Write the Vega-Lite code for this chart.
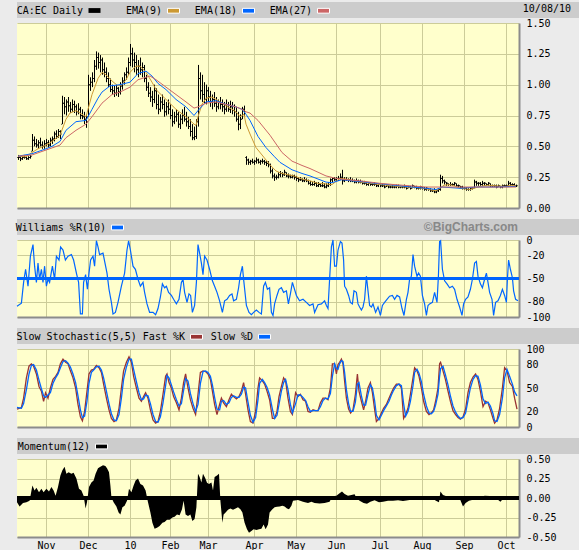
{
"$schema": "https://vega.github.io/schema/vega-lite/v6.json",
"background": "#ebebeb",
"padding": {"left": 14, "top": 2, "right": 0, "bottom": 0},
"bounds": "flush",
"spacing": 5,
"resolve": {"scale": {"color": "independent", "shape": "independent"}, "legend": {"color": "independent", "shape": "independent"}},
"datasets": {
"price": [
{"t":-14,"o":0.41,"h":0.43,"l":0.39,"c":0.41},{"t":-13,"o":0.41,"h":0.42,"l":0.38,"c":0.40},{"t":-12,"o":0.40,"h":0.42,"l":0.39,"c":0.41},{"t":-11,"o":0.41,"h":0.43,"l":0.40,"c":0.41},{"t":-10,"o":0.41,"h":0.42,"l":0.39,"c":0.40},{"t":-9,"o":0.40,"h":0.42,"l":0.39,"c":0.41},{"t":-8,"o":0.41,"h":0.43,"l":0.40,"c":0.42},
{"t":-7,"o":0.46,"h":0.60,"l":0.46,"c":0.55},{"t":-6,"o":0.55,"h":0.58,"l":0.50,"c":0.52},{"t":-5,"o":0.52,"h":0.56,"l":0.49,"c":0.51},{"t":-4,"o":0.51,"h":0.55,"l":0.48,"c":0.53},{"t":-3,"o":0.53,"h":0.57,"l":0.50,"c":0.51},{"t":-2,"o":0.51,"h":0.54,"l":0.48,"c":0.50},{"t":-1,"o":0.50,"h":0.55,"l":0.48,"c":0.52},{"t":0,"o":0.52,"h":0.56,"l":0.50,"c":0.53},{"t":1,"o":0.53,"h":0.55,"l":0.49,"c":0.51},{"t":2,"o":0.51,"h":0.57,"l":0.50,"c":0.55},{"t":3,"o":0.55,"h":0.58,"l":0.52,"c":0.56},
{"t":4,"o":0.56,"h":0.62,"l":0.54,"c":0.60},{"t":5,"o":0.60,"h":0.63,"l":0.56,"c":0.58},{"t":6,"o":0.58,"h":0.64,"l":0.57,"c":0.62},{"t":7,"o":0.62,"h":0.63,"l":0.56,"c":0.60},
{"t":8,"o":0.68,"h":0.91,"l":0.68,"c":0.85},{"t":9,"o":0.85,"h":0.90,"l":0.76,"c":0.82},{"t":10,"o":0.82,"h":0.88,"l":0.75,"c":0.86},{"t":11,"o":0.86,"h":0.90,"l":0.78,"c":0.83},{"t":12,"o":0.83,"h":0.86,"l":0.77,"c":0.80},{"t":13,"o":0.80,"h":0.88,"l":0.78,"c":0.84},{"t":14,"o":0.84,"h":0.87,"l":0.77,"c":0.82},{"t":15,"o":0.82,"h":0.84,"l":0.75,"c":0.78},{"t":16,"o":0.78,"h":0.85,"l":0.76,"c":0.80},{"t":17,"o":0.80,"h":0.82,"l":0.72,"c":0.75},
{"t":18,"o":0.75,"h":0.80,"l":0.72,"c":0.74},{"t":19,"o":0.74,"h":0.78,"l":0.68,"c":0.72},{"t":20,"o":0.72,"h":0.76,"l":0.65,"c":0.70},
{"t":21,"o":0.74,"h":1.08,"l":0.74,"c":1.00},{"t":22,"o":1.00,"h":1.06,"l":0.95,"c":1.02},{"t":23,"o":1.02,"h":1.10,"l":0.98,"c":1.05},{"t":24,"o":1.05,"h":1.20,"l":1.02,"c":1.15},{"t":25,"o":1.15,"h":1.27,"l":1.12,"c":1.22},{"t":26,"o":1.22,"h":1.26,"l":1.13,"c":1.18},{"t":27,"o":1.18,"h":1.24,"l":1.10,"c":1.20},{"t":28,"o":1.20,"h":1.22,"l":1.08,"c":1.12},{"t":29,"o":1.12,"h":1.18,"l":1.06,"c":1.10},
{"t":30,"o":1.10,"h":1.14,"l":1.02,"c":1.05},{"t":31,"o":1.05,"h":1.10,"l":0.98,"c":1.00},{"t":32,"o":1.00,"h":1.05,"l":0.94,"c":0.96},{"t":33,"o":0.96,"h":1.00,"l":0.92,"c":0.95},{"t":34,"o":0.95,"h":0.99,"l":0.90,"c":0.93},{"t":35,"o":0.93,"h":1.00,"l":0.91,"c":0.97},{"t":36,"o":0.97,"h":0.98,"l":0.90,"c":0.94},{"t":37,"o":0.94,"h":1.02,"l":0.92,"c":0.99},
{"t":38,"o":0.99,"h":1.06,"l":0.96,"c":1.03},{"t":39,"o":1.03,"h":1.10,"l":1.00,"c":1.08},{"t":40,"o":1.08,"h":1.14,"l":1.04,"c":1.10},{"t":41,"o":1.10,"h":1.22,"l":1.08,"c":1.18},{"t":42,"o":1.18,"h":1.33,"l":1.15,"c":1.25},{"t":43,"o":1.25,"h":1.30,"l":1.14,"c":1.20},
{"t":44,"o":1.20,"h":1.26,"l":1.10,"c":1.18},{"t":45,"o":1.18,"h":1.24,"l":1.08,"c":1.12},{"t":46,"o":1.12,"h":1.20,"l":1.06,"c":1.15},{"t":47,"o":1.15,"h":1.22,"l":1.08,"c":1.12},{"t":48,"o":1.12,"h":1.18,"l":1.06,"c":1.14},{"t":49,"o":1.14,"h":1.16,"l":1.02,"c":1.05},{"t":50,"o":1.05,"h":1.08,"l":0.95,"c":0.98},
{"t":51,"o":0.98,"h":1.02,"l":0.90,"c":0.93},{"t":52,"o":0.93,"h":0.98,"l":0.86,"c":0.90},{"t":53,"o":0.90,"h":0.95,"l":0.82,"c":0.88},{"t":54,"o":0.88,"h":1.00,"l":0.85,"c":0.95},{"t":55,"o":0.95,"h":0.97,"l":0.80,"c":0.84},{"t":56,"o":0.84,"h":0.92,"l":0.76,"c":0.80},{"t":57,"o":0.80,"h":0.90,"l":0.78,"c":0.86},{"t":58,"o":0.86,"h":0.92,"l":0.80,"c":0.84},{"t":59,"o":0.84,"h":0.88,"l":0.74,"c":0.78},{"t":60,"o":0.78,"h":0.86,"l":0.75,"c":0.82},
{"t":61,"o":0.82,"h":0.88,"l":0.76,"c":0.80},{"t":62,"o":0.80,"h":0.84,"l":0.72,"c":0.75},{"t":63,"o":0.75,"h":0.80,"l":0.66,"c":0.70},{"t":64,"o":0.70,"h":0.78,"l":0.68,"c":0.74},{"t":65,"o":0.74,"h":0.80,"l":0.70,"c":0.76},{"t":66,"o":0.76,"h":0.78,"l":0.65,"c":0.68},{"t":67,"o":0.68,"h":0.76,"l":0.64,"c":0.72},{"t":68,"o":0.72,"h":0.80,"l":0.68,"c":0.75},{"t":69,"o":0.75,"h":0.82,"l":0.70,"c":0.72},{"t":70,"o":0.72,"h":0.78,"l":0.66,"c":0.70},{"t":71,"o":0.70,"h":0.74,"l":0.64,"c":0.66},{"t":72,"o":0.66,"h":0.72,"l":0.58,"c":0.62},{"t":73,"o":0.62,"h":0.68,"l":0.55,"c":0.57},{"t":74,"o":0.57,"h":0.66,"l":0.55,"c":0.58},{"t":75,"o":0.58,"h":0.72,"l":0.56,"c":0.70},
{"t":76,"o":0.70,"h":1.16,"l":0.66,"c":1.05},{"t":77,"o":1.05,"h":1.10,"l":0.88,"c":0.95},{"t":78,"o":0.95,"h":1.08,"l":0.86,"c":0.92},{"t":79,"o":0.92,"h":1.02,"l":0.85,"c":0.88},
{"t":80,"o":0.88,"h":1.00,"l":0.84,"c":0.95},{"t":81,"o":0.95,"h":0.98,"l":0.86,"c":0.90},{"t":82,"o":0.90,"h":0.95,"l":0.82,"c":0.86},{"t":83,"o":0.86,"h":0.92,"l":0.80,"c":0.88},{"t":84,"o":0.88,"h":0.94,"l":0.82,"c":0.85},{"t":85,"o":0.85,"h":0.90,"l":0.78,"c":0.82},{"t":86,"o":0.82,"h":0.88,"l":0.80,"c":0.86},{"t":87,"o":0.86,"h":0.90,"l":0.80,"c":0.84},
{"t":88,"o":0.84,"h":0.88,"l":0.78,"c":0.82},{"t":89,"o":0.82,"h":0.86,"l":0.76,"c":0.80},{"t":90,"o":0.80,"h":0.88,"l":0.78,"c":0.84},{"t":91,"o":0.84,"h":0.86,"l":0.78,"c":0.80},{"t":92,"o":0.80,"h":0.87,"l":0.77,"c":0.82},{"t":93,"o":0.82,"h":0.86,"l":0.76,"c":0.79},{"t":94,"o":0.79,"h":0.84,"l":0.74,"c":0.78},{"t":95,"o":0.78,"h":0.82,"l":0.70,"c":0.72},{"t":96,"o":0.72,"h":0.78,"l":0.63,"c":0.68},{"t":97,"o":0.68,"h":0.76,"l":0.64,"c":0.72},{"t":98,"o":0.72,"h":0.82,"l":0.72,"c":0.80},{"t":99,"o":0.80,"h":0.83,"l":0.74,"c":0.78},
{"t":100,"o":0.41,"h":0.42,"l":0.35,"c":0.39},{"t":101,"o":0.39,"h":0.40,"l":0.35,"c":0.37},{"t":102,"o":0.37,"h":0.39,"l":0.35,"c":0.38},{"t":103,"o":0.38,"h":0.40,"l":0.36,"c":0.37},{"t":104,"o":0.37,"h":0.39,"l":0.35,"c":0.38},{"t":105,"o":0.38,"h":0.41,"l":0.36,"c":0.39},{"t":106,"o":0.39,"h":0.40,"l":0.36,"c":0.37},{"t":107,"o":0.37,"h":0.39,"l":0.35,"c":0.38},{"t":108,"o":0.38,"h":0.40,"l":0.36,"c":0.38},{"t":109,"o":0.38,"h":0.39,"l":0.35,"c":0.37},{"t":110,"o":0.37,"h":0.38,"l":0.34,"c":0.36},{"t":111,"o":0.36,"h":0.38,"l":0.33,"c":0.35},
{"t":112,"o":0.35,"h":0.36,"l":0.28,"c":0.30},{"t":113,"o":0.30,"h":0.32,"l":0.24,"c":0.26},{"t":114,"o":0.26,"h":0.28,"l":0.22,"c":0.25},{"t":115,"o":0.25,"h":0.27,"l":0.23,"c":0.25},{"t":116,"o":0.25,"h":0.29,"l":0.24,"c":0.27},{"t":117,"o":0.27,"h":0.30,"l":0.25,"c":0.28},{"t":118,"o":0.28,"h":0.29,"l":0.25,"c":0.27},{"t":119,"o":0.27,"h":0.31,"l":0.26,"c":0.29},{"t":120,"o":0.29,"h":0.29,"l":0.25,"c":0.26},{"t":121,"o":0.26,"h":0.28,"l":0.24,"c":0.26},{"t":122,"o":0.26,"h":0.27,"l":0.24,"c":0.25},{"t":123,"o":0.25,"h":0.27,"l":0.24,"c":0.26},
{"t":124,"o":0.26,"h":0.27,"l":0.23,"c":0.25},{"t":125,"o":0.25,"h":0.26,"l":0.22,"c":0.24},{"t":126,"o":0.24,"h":0.25,"l":0.21,"c":0.23},{"t":127,"o":0.23,"h":0.25,"l":0.22,"c":0.23},{"t":128,"o":0.23,"h":0.24,"l":0.21,"c":0.22},{"t":129,"o":0.22,"h":0.25,"l":0.21,"c":0.23},{"t":130,"o":0.23,"h":0.24,"l":0.21,"c":0.22},
{"t":131,"o":0.22,"h":0.23,"l":0.19,"c":0.20},{"t":132,"o":0.20,"h":0.22,"l":0.18,"c":0.19},{"t":133,"o":0.19,"h":0.21,"l":0.18,"c":0.19},{"t":134,"o":0.19,"h":0.22,"l":0.18,"c":0.20},{"t":135,"o":0.20,"h":0.21,"l":0.17,"c":0.18},{"t":136,"o":0.18,"h":0.21,"l":0.17,"c":0.19},{"t":137,"o":0.19,"h":0.20,"l":0.17,"c":0.18},{"t":138,"o":0.18,"h":0.21,"l":0.17,"c":0.18},{"t":139,"o":0.18,"h":0.20,"l":0.16,"c":0.17},{"t":140,"o":0.17,"h":0.20,"l":0.16,"c":0.18},{"t":141,"o":0.18,"h":0.21,"l":0.17,"c":0.19},{"t":142,"o":0.19,"h":0.24,"l":0.18,"c":0.23},
{"t":143,"o":0.23,"h":0.25,"l":0.21,"c":0.24},{"t":144,"o":0.24,"h":0.25,"l":0.22,"c":0.23},{"t":145,"o":0.23,"h":0.25,"l":0.22,"c":0.24},{"t":146,"o":0.24,"h":0.26,"l":0.22,"c":0.24},{"t":147,"o":0.24,"h":0.28,"l":0.23,"c":0.25},{"t":148,"o":0.25,"h":0.31,"l":0.19,"c":0.22},
{"t":149,"o":0.22,"h":0.25,"l":0.21,"c":0.23},{"t":150,"o":0.23,"h":0.25,"l":0.22,"c":0.23},{"t":151,"o":0.23,"h":0.24,"l":0.21,"c":0.23},{"t":152,"o":0.23,"h":0.25,"l":0.21,"c":0.22},{"t":153,"o":0.22,"h":0.24,"l":0.21,"c":0.22},{"t":154,"o":0.22,"h":0.23,"l":0.20,"c":0.21},{"t":155,"o":0.21,"h":0.24,"l":0.20,"c":0.22},{"t":156,"o":0.22,"h":0.23,"l":0.20,"c":0.21},{"t":157,"o":0.21,"h":0.23,"l":0.20,"c":0.21},
{"t":158,"o":0.21,"h":0.22,"l":0.19,"c":0.20},{"t":159,"o":0.20,"h":0.22,"l":0.19,"c":0.20},{"t":160,"o":0.20,"h":0.21,"l":0.18,"c":0.19},{"t":161,"o":0.19,"h":0.21,"l":0.18,"c":0.20},{"t":162,"o":0.20,"h":0.21,"l":0.18,"c":0.19},{"t":163,"o":0.19,"h":0.20,"l":0.18,"c":0.19},{"t":164,"o":0.19,"h":0.21,"l":0.18,"c":0.19},{"t":165,"o":0.19,"h":0.20,"l":0.17,"c":0.18},{"t":166,"o":0.18,"h":0.20,"l":0.17,"c":0.19},{"t":167,"o":0.19,"h":0.20,"l":0.17,"c":0.18},
{"t":168,"o":0.18,"h":0.20,"l":0.17,"c":0.18},{"t":169,"o":0.18,"h":0.19,"l":0.16,"c":0.17},{"t":170,"o":0.17,"h":0.19,"l":0.17,"c":0.18},{"t":171,"o":0.18,"h":0.19,"l":0.16,"c":0.17},{"t":172,"o":0.17,"h":0.18,"l":0.16,"c":0.17},{"t":173,"o":0.17,"h":0.19,"l":0.16,"c":0.17},{"t":174,"o":0.17,"h":0.18,"l":0.16,"c":0.17},{"t":175,"o":0.17,"h":0.19,"l":0.16,"c":0.18},{"t":176,"o":0.18,"h":0.19,"l":0.16,"c":0.17},{"t":177,"o":0.17,"h":0.18,"l":0.16,"c":0.17},{"t":178,"o":0.17,"h":0.18,"l":0.16,"c":0.17},
{"t":179,"o":0.17,"h":0.19,"l":0.16,"c":0.17},{"t":180,"o":0.17,"h":0.18,"l":0.15,"c":0.16},{"t":181,"o":0.16,"h":0.18,"l":0.16,"c":0.17},{"t":182,"o":0.17,"h":0.18,"l":0.15,"c":0.16},{"t":183,"o":0.16,"h":0.19,"l":0.16,"c":0.18},{"t":184,"o":0.18,"h":0.18,"l":0.16,"c":0.17},{"t":185,"o":0.17,"h":0.18,"l":0.15,"c":0.16},{"t":186,"o":0.16,"h":0.17,"l":0.15,"c":0.16},{"t":187,"o":0.16,"h":0.18,"l":0.15,"c":0.17},{"t":188,"o":0.17,"h":0.17,"l":0.15,"c":0.16},{"t":189,"o":0.16,"h":0.17,"l":0.14,"c":0.15},{"t":190,"o":0.15,"h":0.17,"l":0.14,"c":0.16},
{"t":191,"o":0.16,"h":0.16,"l":0.14,"c":0.15},{"t":192,"o":0.15,"h":0.16,"l":0.13,"c":0.14},{"t":193,"o":0.14,"h":0.15,"l":0.13,"c":0.14},{"t":194,"o":0.14,"h":0.16,"l":0.12,"c":0.13},{"t":195,"o":0.13,"h":0.15,"l":0.12,"c":0.14},{"t":196,"o":0.14,"h":0.16,"l":0.13,"c":0.15},{"t":197,"o":0.15,"h":0.27,"l":0.14,"c":0.24},
{"t":198,"o":0.24,"h":0.26,"l":0.20,"c":0.22},{"t":199,"o":0.22,"h":0.23,"l":0.19,"c":0.21},{"t":200,"o":0.21,"h":0.21,"l":0.18,"c":0.20},{"t":201,"o":0.20,"h":0.20,"l":0.18,"c":0.19},{"t":202,"o":0.19,"h":0.21,"l":0.18,"c":0.19},{"t":203,"o":0.19,"h":0.20,"l":0.18,"c":0.19},{"t":204,"o":0.19,"h":0.21,"l":0.18,"c":0.20},{"t":205,"o":0.20,"h":0.20,"l":0.17,"c":0.18},{"t":206,"o":0.18,"h":0.19,"l":0.17,"c":0.18},{"t":207,"o":0.18,"h":0.18,"l":0.16,"c":0.17},{"t":208,"o":0.17,"h":0.18,"l":0.15,"c":0.16},{"t":209,"o":0.16,"h":0.17,"l":0.15,"c":0.16},{"t":210,"o":0.16,"h":0.17,"l":0.14,"c":0.15},{"t":211,"o":0.15,"h":0.16,"l":0.14,"c":0.15},{"t":212,"o":0.15,"h":0.17,"l":0.14,"c":0.16},{"t":213,"o":0.16,"h":0.17,"l":0.15,"c":0.16},
{"t":214,"o":0.16,"h":0.23,"l":0.16,"c":0.21},{"t":215,"o":0.21,"h":0.22,"l":0.18,"c":0.20},{"t":216,"o":0.20,"h":0.21,"l":0.18,"c":0.20},{"t":217,"o":0.20,"h":0.21,"l":0.18,"c":0.19},{"t":218,"o":0.19,"h":0.22,"l":0.18,"c":0.20},{"t":219,"o":0.20,"h":0.21,"l":0.18,"c":0.20},{"t":220,"o":0.20,"h":0.20,"l":0.18,"c":0.19},{"t":221,"o":0.19,"h":0.21,"l":0.18,"c":0.20},{"t":222,"o":0.20,"h":0.20,"l":0.17,"c":0.18},{"t":223,"o":0.18,"h":0.19,"l":0.17,"c":0.18},{"t":224,"o":0.18,"h":0.19,"l":0.17,"c":0.18},{"t":225,"o":0.18,"h":0.19,"l":0.16,"c":0.17},{"t":226,"o":0.17,"h":0.19,"l":0.17,"c":0.18},{"t":227,"o":0.18,"h":0.18,"l":0.16,"c":0.17},{"t":228,"o":0.17,"h":0.19,"l":0.16,"c":0.18},{"t":229,"o":0.18,"h":0.19,"l":0.17,"c":0.18},{"t":230,"o":0.18,"h":0.19,"l":0.17,"c":0.18},{"t":231,"o":0.18,"h":0.22,"l":0.17,"c":0.20},{"t":232,"o":0.20,"h":0.21,"l":0.18,"c":0.19},{"t":233,"o":0.19,"h":0.20,"l":0.18,"c":0.19},{"t":234,"o":0.19,"h":0.20,"l":0.17,"c":0.18},{"t":235,"o":0.18,"h":0.19,"l":0.17,"c":0.18}
],
"ema": [
{"s":"EMA(9)","t":-14,"v":0.42},{"s":"EMA(9)","t":-10,"v":0.415},{"s":"EMA(9)","t":-7,"v":0.45},{"s":"EMA(9)","t":-4,"v":0.48},{"s":"EMA(9)","t":0,"v":0.51},{"s":"EMA(9)","t":3,"v":0.54},{"s":"EMA(9)","t":7,"v":0.59},{"s":"EMA(9)","t":10,"v":0.72},{"s":"EMA(9)","t":12,"v":0.77},{"s":"EMA(9)","t":15,"v":0.79},{"s":"EMA(9)","t":18,"v":0.76},{"s":"EMA(9)","t":20,"v":0.74},{"s":"EMA(9)","t":21,"v":0.80},{"s":"EMA(9)","t":23,"v":0.92},{"s":"EMA(9)","t":26,"v":1.05},{"s":"EMA(9)","t":28,"v":1.10},{"s":"EMA(9)","t":30,"v":1.08},{"s":"EMA(9)","t":33,"v":1.03},{"s":"EMA(9)","t":36,"v":0.99},{"s":"EMA(9)","t":38,"v":1.00},{"s":"EMA(9)","t":40,"v":1.04},{"s":"EMA(9)","t":42,"v":1.10},{"s":"EMA(9)","t":45,"v":1.15},{"s":"EMA(9)","t":47,"v":1.15},{"s":"EMA(9)","t":50,"v":1.10},{"s":"EMA(9)","t":53,"v":1.02},{"s":"EMA(9)","t":55,"v":0.96},{"s":"EMA(9)","t":60,"v":0.88},{"s":"EMA(9)","t":65,"v":0.80},{"s":"EMA(9)","t":70,"v":0.74},{"s":"EMA(9)","t":74,"v":0.68},{"s":"EMA(9)","t":75,"v":0.67},{"s":"EMA(9)","t":76,"v":0.74},{"s":"EMA(9)","t":78,"v":0.84},{"s":"EMA(9)","t":80,"v":0.89},{"s":"EMA(9)","t":83,"v":0.90},{"s":"EMA(9)","t":86,"v":0.87},{"s":"EMA(9)","t":90,"v":0.83},{"s":"EMA(9)","t":95,"v":0.78},{"s":"EMA(9)","t":97,"v":0.74},{"s":"EMA(9)","t":99,"v":0.76},{"s":"EMA(9)","t":100,"v":0.68},{"s":"EMA(9)","t":102,"v":0.60},{"s":"EMA(9)","t":105,"v":0.49},{"s":"EMA(9)","t":108,"v":0.43},{"s":"EMA(9)","t":112,"v":0.35},{"s":"EMA(9)","t":115,"v":0.30},{"s":"EMA(9)","t":118,"v":0.28},{"s":"EMA(9)","t":121,"v":0.27},{"s":"EMA(9)","t":124,"v":0.26},{"s":"EMA(9)","t":128,"v":0.235},{"s":"EMA(9)","t":132,"v":0.22},{"s":"EMA(9)","t":136,"v":0.20},{"s":"EMA(9)","t":140,"v":0.195},{"s":"EMA(9)","t":143,"v":0.19},{"s":"EMA(9)","t":145,"v":0.215},{"s":"EMA(9)","t":147,"v":0.24},{"s":"EMA(9)","t":150,"v":0.235},{"s":"EMA(9)","t":153,"v":0.225},{"s":"EMA(9)","t":157,"v":0.21},{"s":"EMA(9)","t":162,"v":0.20},{"s":"EMA(9)","t":167,"v":0.19},{"s":"EMA(9)","t":173,"v":0.18},{"s":"EMA(9)","t":180,"v":0.17},{"s":"EMA(9)","t":185,"v":0.165},{"s":"EMA(9)","t":190,"v":0.155},{"s":"EMA(9)","t":193,"v":0.145},{"s":"EMA(9)","t":195,"v":0.14},{"s":"EMA(9)","t":197,"v":0.16},{"s":"EMA(9)","t":199,"v":0.185},{"s":"EMA(9)","t":202,"v":0.19},{"s":"EMA(9)","t":205,"v":0.175},{"s":"EMA(9)","t":207,"v":0.16},{"s":"EMA(9)","t":212,"v":0.15},{"s":"EMA(9)","t":214,"v":0.16},{"s":"EMA(9)","t":217,"v":0.175},{"s":"EMA(9)","t":221,"v":0.185},{"s":"EMA(9)","t":225,"v":0.18},{"s":"EMA(9)","t":230,"v":0.175},{"s":"EMA(9)","t":232,"v":0.185},{"s":"EMA(9)","t":235,"v":0.18},
{"s":"EMA(18)","t":-14,"v":0.42},{"s":"EMA(18)","t":-7,"v":0.44},{"s":"EMA(18)","t":0,"v":0.48},{"s":"EMA(18)","t":3,"v":0.50},{"s":"EMA(18)","t":7,"v":0.54},{"s":"EMA(18)","t":10,"v":0.63},{"s":"EMA(18)","t":15,"v":0.70},{"s":"EMA(18)","t":20,"v":0.71},{"s":"EMA(18)","t":23,"v":0.80},{"s":"EMA(18)","t":26,"v":0.89},{"s":"EMA(18)","t":28,"v":0.94},{"s":"EMA(18)","t":32,"v":0.99},{"s":"EMA(18)","t":37,"v":1.00},{"s":"EMA(18)","t":42,"v":1.02},{"s":"EMA(18)","t":46,"v":1.09},{"s":"EMA(18)","t":50,"v":1.11},{"s":"EMA(18)","t":53,"v":1.07},{"s":"EMA(18)","t":56,"v":1.01},{"s":"EMA(18)","t":60,"v":0.96},{"s":"EMA(18)","t":65,"v":0.88},{"s":"EMA(18)","t":70,"v":0.82},{"s":"EMA(18)","t":74,"v":0.75},{"s":"EMA(18)","t":76,"v":0.79},{"s":"EMA(18)","t":80,"v":0.86},{"s":"EMA(18)","t":85,"v":0.87},{"s":"EMA(18)","t":90,"v":0.84},{"s":"EMA(18)","t":95,"v":0.82},{"s":"EMA(18)","t":98,"v":0.80},{"s":"EMA(18)","t":100,"v":0.76},{"s":"EMA(18)","t":102,"v":0.71},{"s":"EMA(18)","t":106,"v":0.58},{"s":"EMA(18)","t":110,"v":0.49},{"s":"EMA(18)","t":114,"v":0.42},{"s":"EMA(18)","t":117,"v":0.37},{"s":"EMA(18)","t":120,"v":0.34},{"s":"EMA(18)","t":123,"v":0.31},{"s":"EMA(18)","t":128,"v":0.28},{"s":"EMA(18)","t":132,"v":0.26},{"s":"EMA(18)","t":136,"v":0.235},{"s":"EMA(18)","t":140,"v":0.21},{"s":"EMA(18)","t":143,"v":0.205},{"s":"EMA(18)","t":146,"v":0.22},{"s":"EMA(18)","t":148,"v":0.23},{"s":"EMA(18)","t":153,"v":0.22},{"s":"EMA(18)","t":157,"v":0.215},{"s":"EMA(18)","t":165,"v":0.20},{"s":"EMA(18)","t":174,"v":0.185},{"s":"EMA(18)","t":183,"v":0.17},{"s":"EMA(18)","t":190,"v":0.16},{"s":"EMA(18)","t":195,"v":0.15},{"s":"EMA(18)","t":198,"v":0.17},{"s":"EMA(18)","t":207,"v":0.16},{"s":"EMA(18)","t":215,"v":0.17},{"s":"EMA(18)","t":225,"v":0.17},{"s":"EMA(18)","t":235,"v":0.175},
{"s":"EMA(27)","t":-14,"v":0.42},{"s":"EMA(27)","t":-7,"v":0.43},{"s":"EMA(27)","t":0,"v":0.47},{"s":"EMA(27)","t":7,"v":0.51},{"s":"EMA(27)","t":10,"v":0.57},{"s":"EMA(27)","t":15,"v":0.63},{"s":"EMA(27)","t":20,"v":0.68},{"s":"EMA(27)","t":23,"v":0.74},{"s":"EMA(27)","t":28,"v":0.85},{"s":"EMA(27)","t":33,"v":0.92},{"s":"EMA(27)","t":37,"v":0.94},{"s":"EMA(27)","t":42,"v":0.98},{"s":"EMA(27)","t":46,"v":1.04},{"s":"EMA(27)","t":50,"v":1.06},{"s":"EMA(27)","t":52,"v":1.07},{"s":"EMA(27)","t":55,"v":1.04},{"s":"EMA(27)","t":60,"v":0.98},{"s":"EMA(27)","t":65,"v":0.92},{"s":"EMA(27)","t":70,"v":0.86},{"s":"EMA(27)","t":74,"v":0.81},{"s":"EMA(27)","t":76,"v":0.82},{"s":"EMA(27)","t":80,"v":0.85},{"s":"EMA(27)","t":85,"v":0.86},{"s":"EMA(27)","t":90,"v":0.84},{"s":"EMA(27)","t":95,"v":0.82},{"s":"EMA(27)","t":98,"v":0.80},{"s":"EMA(27)","t":100,"v":0.78},{"s":"EMA(27)","t":102,"v":0.77},{"s":"EMA(27)","t":106,"v":0.71},{"s":"EMA(27)","t":112,"v":0.59},{"s":"EMA(27)","t":118,"v":0.45},{"s":"EMA(27)","t":123,"v":0.38},{"s":"EMA(27)","t":128,"v":0.345},{"s":"EMA(27)","t":132,"v":0.32},{"s":"EMA(27)","t":136,"v":0.29},{"s":"EMA(27)","t":140,"v":0.26},{"s":"EMA(27)","t":145,"v":0.24},{"s":"EMA(27)","t":150,"v":0.23},{"s":"EMA(27)","t":157,"v":0.22},{"s":"EMA(27)","t":167,"v":0.20},{"s":"EMA(27)","t":174,"v":0.19},{"s":"EMA(27)","t":190,"v":0.17},{"s":"EMA(27)","t":207,"v":0.17},{"s":"EMA(27)","t":222,"v":0.17},{"s":"EMA(27)","t":235,"v":0.17}
],
"wr": [
{"t":-14.5,"v":-86},{"t":-12.3,"v":-82},{"t":-11.2,"v":-55},{"t":-10.2,"v":-38},{"t":-9,"v":-60},{"t":-7.8,"v":-21},{"t":-6.5,"v":-6},{"t":-5.7,"v":-34},{"t":-4.8,"v":-55},{"t":-4,"v":-30},{"t":-3.2,"v":-51},{"t":-2.3,"v":-38},{"t":-1.5,"v":-55},{"t":-0.7,"v":-34},{"t":0.2,"v":-60},{"t":1,"v":-51},{"t":1.8,"v":-55},{"t":3.2,"v":-34},{"t":4.3,"v":-51},{"t":5.2,"v":-21},{"t":6.5,"v":-26},{"t":7.3,"v":-9},{"t":8.5,"v":-13},{"t":9.7,"v":-26},{"t":11,"v":-21},{"t":12.7,"v":-19},{"t":13.8,"v":-26},{"t":15.2,"v":-43},{"t":16.3,"v":-55},{"t":17.2,"v":-96},{"t":18.2,"v":-96},{"t":18.8,"v":-55},{"t":19.8,"v":-45},{"t":20.7,"v":-64},{"t":21.5,"v":-43},{"t":22.3,"v":-26},{"t":23.5,"v":-21},{"t":24.3,"v":-34},{"t":25.2,"v":-1},{"t":26,"v":-9},{"t":26.8,"v":-19},{"t":28.5,"v":-17},{"t":29.5,"v":-30},{"t":30.5,"v":-43},{"t":31.5,"v":-64},{"t":32.7,"v":-81},{"t":33.5,"v":-96},{"t":34.7,"v":-94},{"t":36,"v":-81},{"t":37.7,"v":-60},{"t":39.3,"v":-43},{"t":40.5,"v":-13},{"t":41.3,"v":-1},{"t":42.2,"v":-13},{"t":43.5,"v":-34},{"t":44.7,"v":-38},{"t":46,"v":-51},{"t":47.2,"v":-60},{"t":48.5,"v":-55},{"t":49.3,"v":-68},{"t":50.5,"v":-83},{"t":51.8,"v":-94},{"t":53.5,"v":-94},{"t":54.8,"v":-97},{"t":56,"v":-89},{"t":57.2,"v":-74},{"t":58.2,"v":-57},{"t":59.3,"v":-62},{"t":60.2,"v":-60},{"t":61.3,"v":-68},{"t":62.7,"v":-72},{"t":63.8,"v":-77},{"t":65.2,"v":-83},{"t":66.5,"v":-77},{"t":67.7,"v":-55},{"t":68.5,"v":-51},{"t":69.3,"v":-68},{"t":70.5,"v":-81},{"t":71.5,"v":-70},{"t":72.3,"v":-72},{"t":73.2,"v":-94},{"t":74.3,"v":-85},{"t":75.2,"v":-55},{"t":76,"v":-6},{"t":76.8,"v":-17},{"t":77.7,"v":-30},{"t":78.5,"v":-45},{"t":79.3,"v":-21},{"t":80.5,"v":-26},{"t":81.8,"v":-38},{"t":83.2,"v":-53},{"t":84.3,"v":-60},{"t":85.5,"v":-68},{"t":86.8,"v":-79},{"t":88.2,"v":-94},{"t":89.3,"v":-79},{"t":90.5,"v":-77},{"t":91.8,"v":-72},{"t":93,"v":-70},{"t":93.8,"v":-79},{"t":95.2,"v":-77},{"t":96.3,"v":-62},{"t":97.2,"v":-45},{"t":98.2,"v":-34},{"t":98.8,"v":-51},{"t":100.2,"v":-85},{"t":101.5,"v":-94},{"t":102.7,"v":-97},{"t":103.8,"v":-94},{"t":105.2,"v":-91},{"t":106.5,"v":-94},{"t":107.7,"v":-96},{"t":108.8,"v":-60},{"t":109.7,"v":-55},{"t":110.7,"v":-64},{"t":111.8,"v":-62},{"t":112.7,"v":-94},{"t":113.5,"v":-98},{"t":114.3,"v":-83},{"t":115.5,"v":-72},{"t":116.5,"v":-64},{"t":117.7,"v":-62},{"t":118.8,"v":-68},{"t":120.2,"v":-66},{"t":121.2,"v":-83},{"t":122.2,"v":-70},{"t":123.2,"v":-55},{"t":125.2,"v":-72},{"t":126.8,"v":-79},{"t":128.5,"v":-77},{"t":130.2,"v":-81},{"t":131.8,"v":-85},{"t":133.5,"v":-83},{"t":134.3,"v":-94},{"t":136,"v":-84},{"t":137.7,"v":-83},{"t":139.3,"v":-79},{"t":140.2,"v":-85},{"t":141,"v":-89},{"t":141.8,"v":-51},{"t":142.7,"v":-9},{"t":143.5,"v":0},{"t":144.3,"v":-34},{"t":145.2,"v":-34},{"t":146,"v":-13},{"t":147.2,"v":-2},{"t":148,"v":-4},{"t":148.8,"v":-26},{"t":149.3,"v":-60},{"t":150.2,"v":-64},{"t":151.3,"v":-72},{"t":152.2,"v":-81},{"t":153.2,"v":-83},{"t":154,"v":-66},{"t":155.2,"v":-68},{"t":156,"v":-83},{"t":156.8,"v":-87},{"t":157.7,"v":-91},{"t":158.5,"v":-87},{"t":159.3,"v":-77},{"t":160.2,"v":-47},{"t":161,"v":-66},{"t":161.8,"v":-85},{"t":162.7,"v":-87},{"t":163.5,"v":-83},{"t":164.8,"v":-94},{"t":166,"v":-87},{"t":167.2,"v":-98},{"t":168.2,"v":-85},{"t":169.3,"v":-81},{"t":170.5,"v":-77},{"t":171.8,"v":-73},{"t":173.2,"v":-72},{"t":174.3,"v":-77},{"t":175.5,"v":-72},{"t":176.8,"v":-74},{"t":178,"v":-89},{"t":179,"v":-98},{"t":180.2,"v":-77},{"t":181,"v":-68},{"t":181.8,"v":-51},{"t":182.7,"v":-47},{"t":183.5,"v":-19},{"t":184.3,"v":-34},{"t":185.5,"v":-47},{"t":186.3,"v":-43},{"t":187.2,"v":-47},{"t":188.2,"v":-72},{"t":189.3,"v":-83},{"t":190.2,"v":-98},{"t":191,"v":-85},{"t":191.8,"v":-83},{"t":193.2,"v":-81},{"t":194.3,"v":-68},{"t":195.5,"v":-81},{"t":196.2,"v":-47},{"t":196.8,"v":-2},{"t":197.3,"v":-1},{"t":198.2,"v":-38},{"t":199.3,"v":-53},{"t":200.5,"v":-57},{"t":201.8,"v":-62},{"t":203.2,"v":-60},{"t":204.3,"v":-64},{"t":205.5,"v":-77},{"t":206.8,"v":-87},{"t":208,"v":-98},{"t":208.8,"v":-83},{"t":209.8,"v":-77},{"t":211,"v":-74},{"t":212.2,"v":-64},{"t":213.2,"v":-51},{"t":214.3,"v":-30},{"t":215.2,"v":-28},{"t":216,"v":-47},{"t":217.2,"v":-57},{"t":218.2,"v":-62},{"t":219.3,"v":-51},{"t":220.2,"v":-43},{"t":221,"v":-55},{"t":221.8,"v":-68},{"t":223,"v":-77},{"t":223.8,"v":-98},{"t":224.8,"v":-81},{"t":226,"v":-79},{"t":227.2,"v":-72},{"t":228.2,"v":-64},{"t":229.3,"v":-72},{"t":230.2,"v":-81},{"t":230.7,"v":-51},{"t":231.3,"v":-26},{"t":232.2,"v":-38},{"t":233.2,"v":-49},{"t":233.8,"v":-66},{"t":234.8,"v":-77},{"t":236,"v":-79}
],
"sto": [
{"t":-14.5,"k":23,"d":25},{"t":-12.3,"k":25,"d":24},{"t":-11.2,"k":37,"d":30},{"t":-9.8,"k":63,"d":48},{"t":-8.5,"k":78,"d":68},{"t":-7.3,"k":81,"d":79},{"t":-6.2,"k":78,"d":80},{"t":-4.8,"k":68,"d":73},{"t":-3.5,"k":52,"d":60},{"t":-2.3,"k":46,"d":49},{"t":-1.2,"k":33,"d":40},{"t":-0.2,"k":44,"d":38},{"t":1,"k":37,"d":41},{"t":2.2,"k":50,"d":44},{"t":3.5,"k":61,"d":56},{"t":4.8,"k":65,"d":63},{"t":6,"k":70,"d":68},{"t":7.2,"k":81,"d":76},{"t":8.5,"k":87,"d":84},{"t":9.8,"k":83,"d":85},{"t":11,"k":81,"d":82},{"t":12.2,"k":72,"d":77},{"t":13.5,"k":63,"d":68},{"t":14.8,"k":50,"d":57},{"t":16,"k":29,"d":40},{"t":17.2,"k":13,"d":22},{"t":18.2,"k":8,"d":12},{"t":19.3,"k":20,"d":14},{"t":20.5,"k":46,"d":33},{"t":21.5,"k":68,"d":56},{"t":22.7,"k":73,"d":70},{"t":23.8,"k":74,"d":73},{"t":25.2,"k":79,"d":77},{"t":26.5,"k":76,"d":78},{"t":27.7,"k":70,"d":73},{"t":28.8,"k":55,"d":63},{"t":30.2,"k":37,"d":46},{"t":31.5,"k":22,"d":30},{"t":32.7,"k":11,"d":17},{"t":34,"k":7,"d":9},{"t":35.2,"k":9,"d":8},{"t":36.5,"k":24,"d":16},{"t":37.7,"k":50,"d":37},{"t":38.8,"k":72,"d":61},{"t":40.2,"k":83,"d":77},{"t":41.5,"k":90,"d":87},{"t":42.7,"k":83,"d":87},{"t":43.8,"k":65,"d":74},{"t":45.2,"k":50,"d":58},{"t":46.5,"k":37,"d":44},{"t":47.7,"k":33,"d":35},{"t":48.8,"k":39,"d":36},{"t":49.8,"k":44,"d":41},{"t":51,"k":37,"d":40},{"t":52.2,"k":22,"d":30},{"t":53.5,"k":9,"d":16},{"t":54.8,"k":5,"d":7},{"t":56,"k":7,"d":6},{"t":57.2,"k":20,"d":13},{"t":58.5,"k":42,"d":31},{"t":59.8,"k":65,"d":53},{"t":60.5,"k":68,"d":66},{"t":61.5,"k":57,"d":63},{"t":62.7,"k":50,"d":54},{"t":63.8,"k":39,"d":45},{"t":65.2,"k":31,"d":35},{"t":66.5,"k":22,"d":27},{"t":67.7,"k":37,"d":30},{"t":68.8,"k":57,"d":47},{"t":69.8,"k":68,"d":62},{"t":71,"k":50,"d":59},{"t":72.2,"k":35,"d":43},{"t":73.5,"k":24,"d":30},{"t":74.8,"k":16,"d":20},{"t":76,"k":42,"d":29},{"t":77.2,"k":70,"d":56},{"t":78.5,"k":72,"d":71},{"t":79.8,"k":71,"d":72},{"t":81,"k":68,"d":70},{"t":82.2,"k":61,"d":65},{"t":83.2,"k":46,"d":54},{"t":84.3,"k":29,"d":38},{"t":85.5,"k":16,"d":23},{"t":86.8,"k":29,"d":22},{"t":87.7,"k":37,"d":33},{"t":88.8,"k":31,"d":34},{"t":90.2,"k":26,"d":29},{"t":91.5,"k":35,"d":31},{"t":92.7,"k":42,"d":38},{"t":93.8,"k":39,"d":40},{"t":95.2,"k":36,"d":38},{"t":96.5,"k":39,"d":38},{"t":97.7,"k":46,"d":42},{"t":98.8,"k":57,"d":51},{"t":99.8,"k":42,"d":50},{"t":101,"k":22,"d":32},{"t":102.2,"k":7,"d":15},{"t":103.5,"k":5,"d":6},{"t":104.8,"k":20,"d":12},{"t":106,"k":50,"d":35},{"t":106.8,"k":63,"d":56},{"t":108.2,"k":59,"d":61},{"t":109.3,"k":55,"d":57},{"t":110.5,"k":46,"d":51},{"t":111.8,"k":35,"d":41},{"t":113.2,"k":11,"d":23},{"t":114.3,"k":11,"d":11},{"t":115.5,"k":20,"d":15},{"t":116.5,"k":39,"d":29},{"t":117.7,"k":52,"d":46},{"t":118.8,"k":63,"d":57},{"t":119.8,"k":59,"d":61},{"t":121,"k":37,"d":48},{"t":122.2,"k":20,"d":29},{"t":123.2,"k":16,"d":18},{"t":124.8,"k":44,"d":30},{"t":126,"k":39,"d":41},{"t":127.2,"k":42,"d":41},{"t":128.5,"k":35,"d":38},{"t":129.8,"k":33,"d":34},{"t":131,"k":20,"d":26},{"t":132.2,"k":19,"d":20},{"t":133.5,"k":22,"d":21},{"t":134.8,"k":21,"d":21},{"t":136,"k":21,"d":21},{"t":137.2,"k":31,"d":26},{"t":138.5,"k":37,"d":34},{"t":139.8,"k":37,"d":37},{"t":141,"k":35,"d":36},{"t":142.2,"k":50,"d":43},{"t":143.2,"k":81,"d":65},{"t":144.3,"k":81,"d":81},{"t":145.2,"k":68,"d":75},{"t":146,"k":80,"d":74},{"t":146.8,"k":83,"d":81},{"t":147.7,"k":87,"d":85},{"t":148.5,"k":81,"d":84},{"t":149.3,"k":59,"d":70},{"t":150.2,"k":37,"d":48},{"t":151.3,"k":23,"d":30},{"t":152.3,"k":18,"d":20},{"t":153.5,"k":22,"d":20},{"t":154.7,"k":42,"d":32},{"t":155.7,"k":68,"d":55},{"t":156.5,"k":46,"d":57},{"t":157.7,"k":33,"d":40},{"t":158.8,"k":22,"d":28},{"t":159.8,"k":33,"d":28},{"t":161,"k":50,"d":42},{"t":162.2,"k":57,"d":54},{"t":163.2,"k":44,"d":50},{"t":164.3,"k":23,"d":34},{"t":165.2,"k":7,"d":15},{"t":166.5,"k":11,"d":9},{"t":167.7,"k":18,"d":15},{"t":168.8,"k":24,"d":21},{"t":170.2,"k":29,"d":27},{"t":171.5,"k":37,"d":33},{"t":172.7,"k":44,"d":41},{"t":173.8,"k":50,"d":47},{"t":175.2,"k":55,"d":53},{"t":176.5,"k":55,"d":55},{"t":177.7,"k":50,"d":53},{"t":178.8,"k":11,"d":30},{"t":179.8,"k":16,"d":14},{"t":181,"k":24,"d":20},{"t":182.2,"k":42,"d":33},{"t":183.5,"k":63,"d":53},{"t":184.3,"k":76,"d":70},{"t":185.5,"k":72,"d":74},{"t":186.5,"k":65,"d":69},{"t":187.7,"k":50,"d":58},{"t":188.8,"k":33,"d":42},{"t":190.2,"k":20,"d":27},{"t":191.5,"k":16,"d":18},{"t":192.7,"k":18,"d":17},{"t":193.8,"k":22,"d":20},{"t":194.8,"k":33,"d":28},{"t":196,"k":50,"d":42},{"t":196.8,"k":81,"d":65},{"t":197.3,"k":83,"d":75},{"t":198.5,"k":72,"d":78},{"t":199.7,"k":61,"d":67},{"t":201,"k":46,"d":54},{"t":202.2,"k":33,"d":40},{"t":203.5,"k":21,"d":27},{"t":204.8,"k":16,"d":19},{"t":206,"k":12,"d":14},{"t":207.2,"k":10,"d":11},{"t":208.5,"k":13,"d":12},{"t":209.8,"k":23,"d":18},{"t":211,"k":44,"d":34},{"t":212.2,"k":57,"d":50},{"t":213.5,"k":64,"d":61},{"t":214.8,"k":68,"d":66},{"t":216,"k":61,"d":65},{"t":217.2,"k":46,"d":54},{"t":218.5,"k":26,"d":36},{"t":219.8,"k":33,"d":30},{"t":221,"k":31,"d":32},{"t":222.2,"k":22,"d":27},{"t":223.5,"k":11,"d":17},{"t":224.3,"k":5,"d":8},{"t":225.5,"k":9,"d":7},{"t":226.8,"k":24,"d":16},{"t":228.2,"k":50,"d":37},{"t":229.3,"k":76,"d":63},{"t":230.5,"k":72,"d":74},{"t":231.8,"k":57,"d":65},{"t":233.2,"k":52,"d":55},{"t":234.3,"k":37,"d":45},{"t":235.5,"k":23,"d":40}
],
"mom": [
{"t":-14.5,"m":-0.056},{"t":-13.2,"m":-0.11},{"t":-11.5,"m":-0.065},{"t":-9.8,"m":-0.056},{"t":-8.2,"m":-0.035},{"t":-6.8,"m":0.16},{"t":-5.7,"m":0.095},{"t":-4.8,"m":0.13},{"t":-3.5,"m":0.074},{"t":-2.3,"m":0.117},{"t":-1.2,"m":0.074},{"t":0.2,"m":0.117},{"t":1.5,"m":0.082},{"t":2.7,"m":0.14},{"t":3.8,"m":0.095},{"t":4.8,"m":0.03},{"t":6,"m":0.14},{"t":7.2,"m":0.29},{"t":8.2,"m":0.355},{"t":9.3,"m":0.40},{"t":10.2,"m":0.31},{"t":11.3,"m":0.33},{"t":12.7,"m":0.31},{"t":13.8,"m":0.325},{"t":15.2,"m":0.25},{"t":16.5,"m":0.117},{"t":17.7,"m":0.095},{"t":18.8,"m":0.03},{"t":19.8,"m":-0.134},{"t":20.5,"m":-0.056},{"t":21.5,"m":0.14},{"t":22.7,"m":0.20},{"t":23.8,"m":0.225},{"t":24.8,"m":0.31},{"t":26,"m":0.38},{"t":27.2,"m":0.40},{"t":28.5,"m":0.42},{"t":29.7,"m":0.41},{"t":30.5,"m":0.38},{"t":31.5,"m":0.33},{"t":32.2,"m":0.16},{"t":32.7,"m":0.01},{"t":33.8,"m":-0.056},{"t":35.2,"m":-0.11},{"t":36.3,"m":-0.186},{"t":37.2,"m":-0.21},{"t":38.2,"m":-0.12},{"t":39.3,"m":-0.10},{"t":40.5,"m":-0.035},{"t":41.5,"m":0.117},{"t":42.7,"m":0.074},{"t":43.8,"m":0.16},{"t":44.8,"m":0.225},{"t":46,"m":0.25},{"t":47.2,"m":0.18},{"t":48.5,"m":0.16},{"t":49.8,"m":0.095},{"t":51,"m":-0.056},{"t":52.2,"m":-0.186},{"t":53.2,"m":-0.316},{"t":54.3,"m":-0.394},{"t":55.5,"m":-0.38},{"t":56.8,"m":-0.36},{"t":58.2,"m":-0.316},{"t":59.3,"m":-0.307},{"t":60.5,"m":-0.28},{"t":61.8,"m":-0.28},{"t":63.2,"m":-0.25},{"t":64.3,"m":-0.24},{"t":65.5,"m":-0.21},{"t":66.8,"m":-0.22},{"t":68,"m":-0.143},{"t":68.8,"m":-0.035},{"t":69.8,"m":-0.21},{"t":71,"m":-0.23},{"t":72.2,"m":-0.21},{"t":73.2,"m":-0.294},{"t":74.3,"m":-0.27},{"t":75.2,"m":-0.12},{"t":76,"m":0.31},{"t":76.8,"m":0.27},{"t":77.7,"m":0.20},{"t":78.5,"m":0.31},{"t":79.7,"m":0.25},{"t":80.5,"m":0.195},{"t":81.5,"m":0.18},{"t":82.7,"m":0.20},{"t":83.5,"m":0.095},{"t":84.3,"m":0.27},{"t":85.5,"m":0.29},{"t":86.5,"m":0.31},{"t":87.2,"m":-0.035},{"t":88.2,"m":-0.316},{"t":88.8,"m":-0.21},{"t":89.8,"m":-0.186},{"t":91,"m":-0.15},{"t":92.2,"m":-0.134},{"t":93.5,"m":-0.15},{"t":94.8,"m":-0.134},{"t":96,"m":-0.12},{"t":97.2,"m":-0.143},{"t":98.2,"m":-0.186},{"t":99.3,"m":-0.316},{"t":100.5,"m":-0.40},{"t":101.5,"m":-0.446},{"t":102.7,"m":-0.424},{"t":103.8,"m":-0.40},{"t":105.2,"m":-0.41},{"t":106.5,"m":-0.40},{"t":107.7,"m":-0.394},{"t":108.8,"m":-0.34},{"t":109.8,"m":-0.40},{"t":111,"m":-0.34},{"t":111.8,"m":-0.186},{"t":113.2,"m":-0.143},{"t":114.3,"m":-0.12},{"t":115.5,"m":-0.113},{"t":116.8,"m":-0.11},{"t":118.2,"m":-0.10},{"t":119.3,"m":-0.11},{"t":120.5,"m":-0.134},{"t":121.5,"m":-0.143},{"t":122.7,"m":-0.10},{"t":123.5,"m":-0.035},{"t":126,"m":-0.026},{"t":128.5,"m":-0.048},{"t":131,"m":-0.065},{"t":132.7,"m":-0.048},{"t":134.3,"m":-0.065},{"t":136.8,"m":-0.069},{"t":139.3,"m":-0.065},{"t":141.8,"m":-0.048},{"t":143.2,"m":0.022},{"t":145.2,"m":0.03},{"t":146.8,"m":0.06},{"t":148,"m":0.082},{"t":149.3,"m":0.052},{"t":151,"m":0.03},{"t":152.7,"m":0.039},{"t":154.3,"m":0.048},{"t":155.2,"m":0},{"t":156.8,"m":-0.035},{"t":158.8,"m":-0.065},{"t":160.5,"m":-0.074},{"t":162.2,"m":-0.048},{"t":164.3,"m":-0.03},{"t":166.5,"m":-0.056},{"t":168.5,"m":-0.048},{"t":171,"m":-0.035},{"t":173.5,"m":-0.035},{"t":176,"m":-0.03},{"t":178.5,"m":-0.039},{"t":181,"m":-0.03},{"t":183.5,"m":-0.017},{"t":186,"m":-0.013},{"t":188.5,"m":-0.022},{"t":191,"m":-0.013},{"t":193.5,"m":-0.013},{"t":195.2,"m":-0.039},{"t":196.5,"m":-0.056},{"t":197.2,"m":0.082},{"t":198.5,"m":0.039},{"t":200.2,"m":0.022},{"t":202.7,"m":0.017},{"t":205.2,"m":0.009},{"t":206.8,"m":-0.004},{"t":208.5,"m":-0.11},{"t":209.8,"m":-0.065},{"t":211.5,"m":-0.035},{"t":213.5,"m":-0.022},{"t":215.2,"m":0.017},{"t":216.8,"m":0},{"t":219.3,"m":0.03},{"t":221.8,"m":0.026},{"t":223.5,"m":0.004},{"t":225.5,"m":-0.013},{"t":227.2,"m":-0.048},{"t":228.8,"m":-0.004},{"t":231,"m":0.009},{"t":233.5,"m":0.004},{"t":236,"m":0}
]
},
"vconcat": [
{
"width": 565, "height": 16,
"view": {"fill": "#cccccc"},
"title": {"text": "10/08/10", "anchor": "end", "frame": "group", "orient": "top", "offset": -12, "dx": -11, "dy": 5, "baseline": "middle"},
"layer": [
{"data": {"values": [{"a":"CA:EC Daily"}]},
 "mark": {"type": "point", "opacity": 0, "filled": true, "color": "#000000"},
 "encoding": {"shape": {"field": "a", "type": "nominal", "scale": {"domain": ["CA:EC Daily"], "range": ["M-1,-0.4H1V0.4H-1Z"]}, "legend": {"title": null, "legendX": 71, "legendY": 2, "symbolFillColor": "#000000"}}}},
{"data": {"values": [{"s":"EMA(9)"},{"s":"EMA(18)"},{"s":"EMA(27)"}]},
 "mark": {"type": "square", "opacity": 0},
 "encoding": {"color": {"field": "s", "type": "nominal", "scale": {"domain": ["EMA(9)","EMA(18)","EMA(27)"], "range": ["#cc9933","#0066ff","#cc6666"]}, "legend": {"title": null, "legendX": 150, "legendY": 2, "columnPadding": 12}}}}
]
},
{
"width": 502, "height": 185,
"view": {"fill": "#ffffcc"},
"encoding": {
 "x": {"field": "t", "type": "quantitative", "scale": {"domain": [-14.5, 236.5], "nice": false, "zero": false}, "axis": {"values": [0,21,42,62,81,104,125,145,167,188,209,230], "grid": true, "labels": false, "domain": true, "title": null}}
},
"layer": [
{"data": {"name": "price"}, "mark": {"type": "rule", "color": "#000000", "strokeWidth": 1, "xOffset": 0.5},
 "encoding": {
  "y": {"field": "l", "type": "quantitative", "scale": {"domain": [0, 1.5], "nice": false, "zero": false}, "axis": {"orient": "right", "values": [0,0.25,0.5,0.75,1,1.25,1.5], "format": ".2f", "grid": true, "domain": true, "title": null, "labelOverlap": false}},
  "y2": {"field": "h"}}},
{"data": {"name": "price"}, "mark": {"type": "tick", "orient": "horizontal", "color": "#000000", "size": 1, "thickness": 1, "xOffset": 1.5},
 "encoding": {"y": {"field": "c", "type": "quantitative", "axis": {"orient": "right", "values": [0,0.25,0.5,0.75,1,1.25,1.5], "format": ".2f", "grid": true, "domain": true, "title": null, "labelOverlap": false}}}},
{"data": {"name": "price"}, "mark": {"type": "tick", "orient": "horizontal", "color": "#000000", "size": 1, "thickness": 1, "xOffset": -0.5},
 "encoding": {"y": {"field": "o", "type": "quantitative", "axis": {"orient": "right", "values": [0,0.25,0.5,0.75,1,1.25,1.5], "format": ".2f", "grid": true, "domain": true, "title": null, "labelOverlap": false}}}},
{"data": {"name": "ema"}, "mark": {"type": "line", "strokeWidth": 1},
 "encoding": {"y": {"field": "v", "type": "quantitative", "axis": {"orient": "right", "values": [0,0.25,0.5,0.75,1,1.25,1.5], "format": ".2f", "grid": true, "domain": true, "title": null, "labelOverlap": false}},
  "color": {"field": "s", "type": "nominal", "scale": {"domain": ["EMA(9)","EMA(18)","EMA(27)"], "range": ["#cc9933","#0066ff","#cc6666"]}, "legend": null}}}
]
},
{"width": 1, "height": 1, "data": {"values": [{}]}, "mark": {"type": "point", "opacity": 0}},
{
"width": 565, "height": 16,
"view": {"fill": "#cccccc"},
"title": {"text": "©BigCharts.com", "anchor": "end", "frame": "group", "orient": "top", "offset": -12, "dx": -64, "dy": 8, "baseline": "middle", "font": "Liberation Sans", "fontSize": 12, "fontWeight": "bold", "color": "#888888"},
"data": {"values": [{"s":"Williams %R(10)"}]},
"mark": {"type": "square", "opacity": 0},
"encoding": {"color": {"field": "s", "type": "nominal", "scale": {"domain": ["Williams %R(10)"], "range": ["#0066ff"]}, "legend": {"title": null, "legendX": 94, "legendY": 2}}}
},
{
"width": 502, "height": 77,
"view": {"fill": "#ffffcc"},
"data": {"name": "wr"},
"encoding": {
 "x": {"field": "t", "type": "quantitative", "scale": {"domain": [-14.5, 236.5], "nice": false, "zero": false}, "axis": {"values": [0,21,42,62,81,104,125,145,167,188,209,230], "grid": true, "labels": false, "domain": true, "title": null}}
},
"layer": [
{"mark": {"type": "line", "color": "#0066ff", "strokeWidth": 1.2},
 "encoding": {
  "y": {"field": "v", "type": "quantitative", "scale": {"domain": [-100, 0], "nice": false, "zero": false}, "axis": {"orient": "right", "values": [0,-20,-50,-80,-100], "labelExpr": "replace(format(datum.value, 'd'), '\u2212', '-')", "grid": true, "domain": true, "title": null, "labelOverlap": false}}}},
{"mark": {"type": "rule", "color": "#0066ff", "strokeWidth": 1.6},
 "encoding": {"x": null, "y": {"datum": -50, "type": "quantitative", "axis": {"orient": "right", "values": [0,-20,-50,-80,-100], "labelExpr": "replace(format(datum.value, 'd'), '\u2212', '-')", "grid": true, "domain": true, "title": null, "labelOverlap": false}}}}
]
},
{"width": 1, "height": 1, "data": {"values": [{}]}, "mark": {"type": "point", "opacity": 0}},
{
"width": 565, "height": 16,
"view": {"fill": "#cccccc"},
"data": {"values": [{"s":"Slow Stochastic(5,5) Fast %K"},{"s":"Slow %D"}]},
"mark": {"type": "square", "opacity": 0},
"encoding": {"color": {"field": "s", "type": "nominal", "scale": {"domain": ["Slow Stochastic(5,5) Fast %K","Slow %D"], "range": ["#993333","#0066ff"]}, "legend": {"title": null, "legendX": 173, "legendY": 2, "columnPadding": 5}}}
},
{
"width": 502, "height": 78,
"view": {"fill": "#ffffcc"},
"data": {"name": "sto"},
"encoding": {
 "x": {"field": "t", "type": "quantitative", "scale": {"domain": [-14.5, 236.5], "nice": false, "zero": false}, "axis": {"values": [0,21,42,62,81,104,125,145,167,188,209,230], "grid": true, "labels": false, "domain": true, "title": null}}
},
"layer": [
{"mark": {"type": "line", "color": "#993333", "strokeWidth": 1.3},
 "encoding": {
  "y": {"field": "k", "type": "quantitative", "scale": {"domain": [0, 100], "nice": false, "zero": false}, "axis": {"orient": "right", "values": [100,80,50,20,0], "grid": true, "domain": true, "title": null, "labelOverlap": false}}}},
{"mark": {"type": "line", "color": "#0066ff", "strokeWidth": 1.3},
 "encoding": {"y": {"field": "d", "type": "quantitative", "axis": {"orient": "right", "values": [100,80,50,20,0], "grid": true, "domain": true, "title": null, "labelOverlap": false}}}}
]
},
{"width": 1, "height": 1, "data": {"values": [{}]}, "mark": {"type": "point", "opacity": 0}},
{
"width": 565, "height": 16,
"view": {"fill": "#cccccc"},
"data": {"values": [{"s":"Momentum(12)"}]},
"mark": {"type": "square", "opacity": 0},
"encoding": {"color": {"field": "s", "type": "nominal", "scale": {"domain": ["Momentum(12)"], "range": ["#000000"]}, "legend": {"title": null, "legendX": 78, "legendY": 2}}}
},
{
"width": 502, "height": 78,
"view": {"fill": "#ffffcc"},
"data": {"name": "mom"},
"encoding": {
 "x": {"field": "t", "type": "quantitative", "scale": {"domain": [-14.5, 236.5], "nice": false, "zero": false}, "axis": {"values": [0,21,42,62,81,104,125,145,167,188,209,230], "grid": true, "labels": true, "domain": true, "title": null, "labelPadding": 3, "labelExpr": "['Nov','Dec','10','Feb','Mar','Apr','May','Jun','Jul','Aug','Sep','Oct'][indexof([0,21,42,62,81,104,125,145,167,188,209,230], datum.value)]"}}
},
"layer": [
{"mark": {"type": "area", "color": "#000000"},
 "encoding": {
  "y": {"field": "m", "type": "quantitative", "scale": {"domain": [-0.5, 0.5], "nice": false, "zero": false}, "axis": {"orient": "right", "values": [0.5,0.25,0,-0.25,-0.5], "labelExpr": "replace(format(datum.value, '.2f'), '\u2212', '-')", "grid": true, "domain": true, "title": null, "labelOverlap": false}},
  "y2": {"datum": 0}}},
{"mark": {"type": "rule", "color": "#000000", "strokeWidth": 3},
 "encoding": {"x": null, "y": {"datum": 0, "type": "quantitative", "axis": {"orient": "right", "values": [0.5,0.25,0,-0.25,-0.5], "labelExpr": "replace(format(datum.value, '.2f'), '\u2212', '-')", "grid": true, "domain": true, "title": null, "labelOverlap": false}}}}
]
}
],
"config": {
"view": {"stroke": null},
"axis": {"gridColor": "#cccc99", "gridOpacity": 1, "gridWidth": 1, "domainColor": "#8c8c8c", "domainWidth": 2, "ticks": false, "labelFont": "DejaVu Sans Mono", "labelFontSize": 10, "labelColor": "#000000", "labelPadding": 7, "labelOverlap": false},
"legend": {"orient": "none", "direction": "horizontal", "labelFont": "DejaVu Sans Mono", "labelFontSize": 10, "labelColor": "#000000", "labelLimit": 400, "symbolType": "M-1,-0.4H1V0.4H-1Z", "symbolSize": 144, "symbolStrokeColor": "#ffffff", "symbolStrokeWidth": 1, "symbolOpacity": 1, "labelAlign": "right", "labelOffset": -18, "padding": 0},
"title": {"font": "DejaVu Sans Mono", "fontSize": 10, "fontWeight": "normal", "color": "#000000"}
}
}
